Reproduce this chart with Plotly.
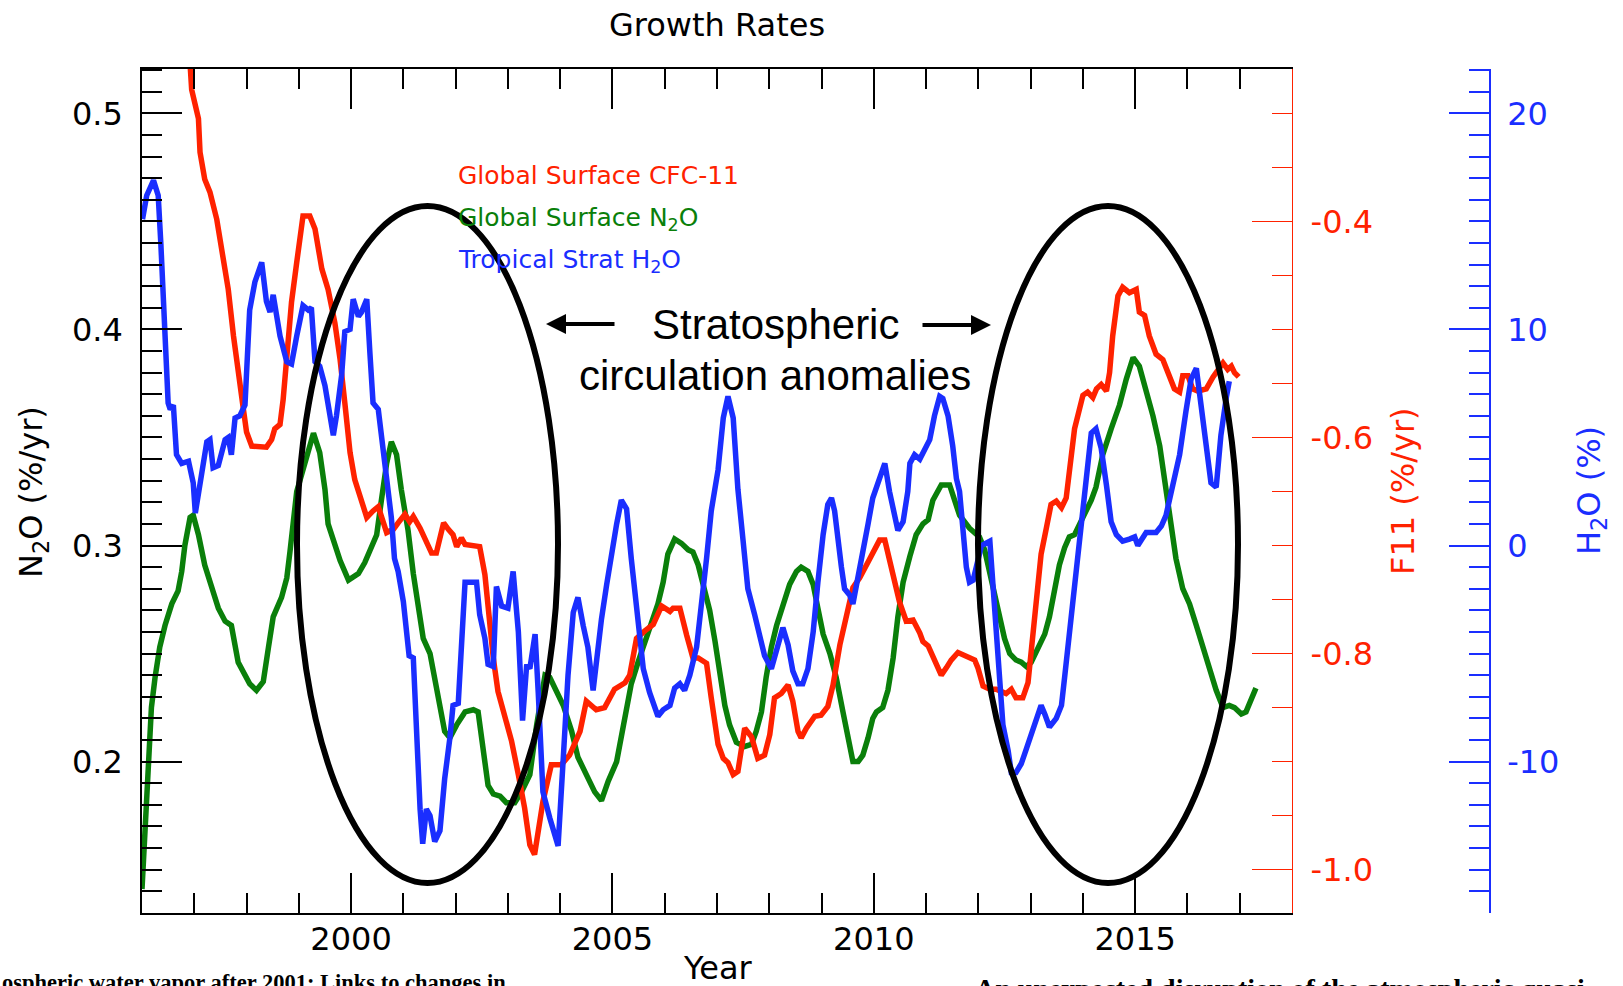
import plotly.graph_objects as go

# ---------------- data ----------------
cfc11_year = [1996.85, 1996.95, 1997.08, 1997.11, 1997.20, 1997.30, 1997.43, 1997.55, 1997.65, 1997.75,
              1997.84, 1997.94, 1998.00, 1998.10, 1998.38, 1998.48, 1998.54, 1998.64, 1998.70, 1998.77,
              1998.86, 1998.96, 1999.08, 1999.21, 1999.31, 1999.44, 1999.56, 1999.69, 1999.79, 1999.88,
              1999.98, 2000.07, 2000.30, 2000.42, 2000.52, 2000.68, 2000.81, 2000.90, 2001.03, 2001.12,
              2001.19, 2001.32, 2001.44, 2001.54, 2001.63, 2001.70, 2001.77, 2001.86, 2001.95, 2002.02,
              2002.11, 2002.18, 2002.46, 2002.56, 2002.65, 2002.72, 2002.81, 2002.94, 2003.07, 2003.20,
              2003.32, 2003.42, 2003.51, 2003.67, 2003.83, 2004.02, 2004.18, 2004.38, 2004.50, 2004.69,
              2004.85, 2005.04, 2005.24, 2005.33, 2005.46, 2005.62, 2005.78, 2005.94, 2006.10, 2006.16,
              2006.29, 2006.42, 2006.54, 2006.64, 2006.80, 2006.89, 2007.02, 2007.12, 2007.21, 2007.31,
              2007.40, 2007.53, 2007.66, 2007.78, 2007.91, 2008.01, 2008.10, 2008.23, 2008.36, 2008.45,
              2008.55, 2008.61, 2008.71, 2008.87, 2008.99, 2009.12, 2009.22, 2009.35, 2009.47, 2009.60,
              2009.73, 2009.86, 2009.98, 2010.11, 2010.21, 2010.30, 2010.40, 2010.49, 2010.62, 2010.75,
              2010.88, 2010.94, 2011.04, 2011.16, 2011.29, 2011.39, 2011.48, 2011.61, 2011.71, 2011.83,
              2011.93, 2011.99, 2012.09, 2012.22, 2012.34, 2012.53, 2012.63, 2012.72, 2012.85, 2012.95,
              2013.01, 2013.08, 2013.14, 2013.20, 2013.30, 2013.39, 2013.49, 2013.59, 2013.68, 2013.84,
              2014.00, 2014.09, 2014.19, 2014.26, 2014.35, 2014.45, 2014.51, 2014.57, 2014.67, 2014.76,
              2014.89, 2015.02, 2015.08, 2015.18, 2015.27, 2015.40, 2015.53, 2015.62, 2015.75, 2015.85,
              2015.91, 2016.01, 2016.10, 2016.20, 2016.36, 2016.49, 2016.68, 2016.77, 2016.84, 2016.90,
              2016.98]
cfc11_rate = [-0.200, -0.278, -0.305, -0.336, -0.361, -0.373, -0.398, -0.432, -0.463, -0.506,
              -0.543, -0.574, -0.595, -0.608, -0.609, -0.602, -0.592, -0.588, -0.565, -0.524,
              -0.475, -0.438, -0.395, -0.395, -0.407, -0.444, -0.463, -0.494, -0.528, -0.568,
              -0.614, -0.639, -0.674, -0.668, -0.664, -0.688, -0.685, -0.679, -0.671, -0.678,
              -0.673, -0.684, -0.696, -0.707, -0.707, -0.695, -0.679, -0.685, -0.690, -0.701,
              -0.693, -0.699, -0.701, -0.727, -0.773, -0.804, -0.835, -0.860, -0.881, -0.912,
              -0.943, -0.977, -0.986, -0.937, -0.903, -0.903, -0.894, -0.872, -0.844, -0.852,
              -0.850, -0.833, -0.827, -0.820, -0.786, -0.779, -0.773, -0.756, -0.761, -0.758,
              -0.758, -0.783, -0.804, -0.804, -0.809, -0.841, -0.884, -0.897, -0.901, -0.912,
              -0.909, -0.869, -0.877, -0.897, -0.894, -0.875, -0.841, -0.837, -0.829, -0.844,
              -0.872, -0.878, -0.869, -0.858, -0.857, -0.849, -0.829, -0.792, -0.764, -0.739,
              -0.730, -0.718, -0.705, -0.695, -0.695, -0.712, -0.733, -0.752, -0.770, -0.769,
              -0.781, -0.789, -0.793, -0.807, -0.820, -0.813, -0.806, -0.799, -0.801, -0.804,
              -0.806, -0.813, -0.830, -0.833, -0.833, -0.837, -0.833, -0.841, -0.841, -0.827,
              -0.798, -0.767, -0.733, -0.708, -0.684, -0.662, -0.659, -0.665, -0.656, -0.592,
              -0.561, -0.558, -0.563, -0.555, -0.551, -0.557, -0.540, -0.506, -0.469, -0.461,
              -0.466, -0.463, -0.484, -0.487, -0.506, -0.523, -0.528, -0.540, -0.555, -0.558,
              -0.543, -0.543, -0.555, -0.557, -0.555, -0.544, -0.531, -0.537, -0.534, -0.540,
              -0.544]

n2o_year = [1996.00, 1996.06, 1996.12, 1996.18, 1996.25, 1996.34, 1996.44, 1996.57, 1996.69, 1996.76,
            1996.82, 1996.92, 1996.98, 1997.08, 1997.20, 1997.33, 1997.46, 1997.59, 1997.71, 1997.84,
            1997.97, 1998.06, 1998.19, 1998.32, 1998.42, 1998.51, 1998.67, 1998.77, 1998.83, 1998.89,
            1998.96, 1999.02, 1999.15, 1999.28, 1999.40, 1999.50, 1999.56, 1999.66, 1999.79, 1999.95,
            2000.14, 2000.26, 2000.39, 2000.49, 2000.58, 2000.68, 2000.77, 2000.87, 2000.96, 2001.09,
            2001.19, 2001.28, 2001.38, 2001.51, 2001.60, 2001.70, 2001.79, 2001.89, 2002.02, 2002.18,
            2002.34, 2002.43, 2002.53, 2002.62, 2002.72, 2002.85, 2002.97, 2003.13, 2003.26, 2003.42,
            2003.55, 2003.71, 2003.80, 2003.93, 2004.06, 2004.22, 2004.34, 2004.50, 2004.66, 2004.79,
            2004.92, 2005.08, 2005.17, 2005.27, 2005.36, 2005.49, 2005.62, 2005.75, 2005.87, 2005.97,
            2006.06, 2006.19, 2006.32, 2006.45, 2006.54, 2006.64, 2006.73, 2006.86, 2006.96, 2007.05,
            2007.15, 2007.24, 2007.37, 2007.53, 2007.66, 2007.75, 2007.85, 2007.94, 2008.04, 2008.14,
            2008.26, 2008.39, 2008.52, 2008.61, 2008.74, 2008.84, 2008.93, 2009.03, 2009.16, 2009.28,
            2009.41, 2009.51, 2009.60, 2009.70, 2009.79, 2009.89, 2009.98, 2010.05, 2010.17, 2010.27,
            2010.37, 2010.46, 2010.56, 2010.69, 2010.81, 2010.94, 2011.04, 2011.13, 2011.23, 2011.29,
            2011.45, 2011.55, 2011.64, 2011.83, 2012.02, 2012.12, 2012.21, 2012.31, 2012.41, 2012.50,
            2012.60, 2012.72, 2012.82, 2012.92, 2013.01, 2013.14, 2013.27, 2013.36, 2013.46, 2013.55,
            2013.65, 2013.74, 2013.84, 2013.94, 2014.03, 2014.16, 2014.25, 2014.38, 2014.54, 2014.70,
            2014.83, 2014.96, 2015.08, 2015.21, 2015.34, 2015.47, 2015.59, 2015.69, 2015.78, 2015.91,
            2016.04, 2016.17, 2016.29, 2016.42, 2016.55, 2016.68, 2016.80, 2016.90, 2017.03, 2017.12,
            2017.22, 2017.31]
n2o_rate = [0.141, 0.171, 0.202, 0.225, 0.239, 0.253, 0.263, 0.273, 0.279, 0.288,
            0.300, 0.313, 0.314, 0.305, 0.291, 0.280, 0.271, 0.265, 0.263, 0.246,
            0.240, 0.236, 0.233, 0.237, 0.253, 0.267, 0.276, 0.285, 0.297, 0.311,
            0.325, 0.330, 0.342, 0.352, 0.343, 0.326, 0.310, 0.302, 0.293, 0.284,
            0.287, 0.292, 0.299, 0.305, 0.321, 0.338, 0.348, 0.342, 0.326, 0.307,
            0.287, 0.271, 0.257, 0.250, 0.239, 0.225, 0.214, 0.211, 0.217, 0.223,
            0.224, 0.223, 0.205, 0.189, 0.185, 0.184, 0.181, 0.181, 0.186, 0.194,
            0.217, 0.240, 0.239, 0.233, 0.226, 0.214, 0.202, 0.194, 0.186, 0.182,
            0.191, 0.200, 0.211, 0.225, 0.236, 0.246, 0.255, 0.263, 0.273, 0.283,
            0.296, 0.303, 0.301, 0.298, 0.297, 0.291, 0.282, 0.270, 0.256, 0.240,
            0.226, 0.217, 0.209, 0.207, 0.208, 0.214, 0.223, 0.239, 0.253, 0.263,
            0.273, 0.282, 0.288, 0.290, 0.288, 0.282, 0.271, 0.259, 0.250, 0.239,
            0.223, 0.209, 0.200, 0.200, 0.203, 0.211, 0.220, 0.223, 0.225, 0.233,
            0.248, 0.267, 0.283, 0.295, 0.305, 0.310, 0.312, 0.321, 0.326, 0.328,
            0.328, 0.320, 0.314, 0.308, 0.304, 0.298, 0.288, 0.279, 0.267, 0.257,
            0.250, 0.247, 0.246, 0.244, 0.246, 0.253, 0.259, 0.267, 0.279, 0.291,
            0.299, 0.304, 0.305, 0.310, 0.314, 0.321, 0.327, 0.342, 0.354, 0.365,
            0.377, 0.387, 0.383, 0.372, 0.360, 0.346, 0.327, 0.310, 0.294, 0.280,
            0.273, 0.263, 0.253, 0.243, 0.233, 0.225, 0.226, 0.225, 0.222, 0.223,
            0.229, 0.234]

h2o_year = [1996.01, 1996.09, 1996.22, 1996.31, 1996.36, 1996.41, 1996.44, 1996.50, 1996.54, 1996.60,
            1996.66, 1996.76, 1996.89, 1996.98, 1997.02, 1997.14, 1997.24, 1997.30, 1997.36, 1997.46,
            1997.59, 1997.65, 1997.71, 1997.78, 1997.87, 1997.97, 1998.06, 1998.16, 1998.29, 1998.38,
            1998.45, 1998.51, 1998.57, 1998.64, 1998.77, 1998.86, 1998.96, 1999.08, 1999.18, 1999.24,
            1999.31, 1999.40, 1999.50, 1999.59, 1999.66, 1999.72, 1999.82, 1999.88, 1999.98, 2000.04,
            2000.14, 2000.20, 2000.30, 2000.36, 2000.42, 2000.52, 2000.58, 2000.65, 2000.71, 2000.77,
            2000.83, 2000.90, 2001.00, 2001.06, 2001.11, 2001.19, 2001.25, 2001.32, 2001.37, 2001.44,
            2001.51, 2001.60, 2001.70, 2001.79, 2001.89, 2001.95, 2002.05, 2002.11, 2002.18, 2002.40,
            2002.46, 2002.56, 2002.62, 2002.72, 2002.78, 2002.88, 2003.00, 2003.10, 2003.20, 2003.28,
            2003.36, 2003.42, 2003.52, 2003.58, 2003.67, 2003.80, 2003.96, 2004.06, 2004.15, 2004.25,
            2004.34, 2004.44, 2004.53, 2004.63, 2004.73, 2004.79, 2004.89, 2004.98, 2005.08, 2005.17,
            2005.27, 2005.36, 2005.46, 2005.59, 2005.71, 2005.87, 2005.97, 2006.10, 2006.19, 2006.29,
            2006.38, 2006.48, 2006.61, 2006.70, 2006.80, 2006.89, 2006.96, 2007.02, 2007.12, 2007.21,
            2007.31, 2007.40, 2007.50, 2007.59, 2007.72, 2007.82, 2007.91, 2008.04, 2008.17, 2008.26,
            2008.36, 2008.45, 2008.55, 2008.64, 2008.74, 2008.84, 2008.93, 2009.03, 2009.12, 2009.19,
            2009.25, 2009.31, 2009.38, 2009.44, 2009.54, 2009.60, 2009.70, 2009.79, 2009.89, 2009.98,
            2010.11, 2010.21, 2010.30, 2010.40, 2010.46, 2010.56, 2010.65, 2010.69, 2010.78, 2010.88,
            2010.97, 2011.07, 2011.16, 2011.26, 2011.32, 2011.42, 2011.51, 2011.58, 2011.64, 2011.70,
            2011.77, 2011.83, 2011.90, 2011.96, 2012.06, 2012.22, 2012.28, 2012.34, 2012.41, 2012.47,
            2012.57, 2012.63, 2012.72, 2012.82, 2012.92, 2013.04, 2013.14, 2013.20, 2013.27, 2013.36,
            2013.49, 2013.59, 2013.65, 2013.71, 2013.78, 2013.84, 2013.90, 2013.97, 2014.03, 2014.16,
            2014.25, 2014.35, 2014.45, 2014.54, 2014.64, 2014.76, 2014.89, 2014.99, 2015.05, 2015.15,
            2015.21, 2015.40, 2015.50, 2015.59, 2015.69, 2015.85, 2015.97, 2016.07, 2016.17, 2016.26,
            2016.36, 2016.45, 2016.55, 2016.64, 2016.74, 2016.80]
h2o_anom = [15.1, 16.2, 16.9, 16.2, 14.0, 11.3, 9.7, 6.6, 6.3, 6.5,
            4.2, 3.8, 3.9, 2.9, 1.5, 3.5, 4.8, 4.9, 3.6, 3.7,
            4.9, 5.0, 4.2, 5.9, 6.0, 6.5, 10.9, 12.2, 13.1, 11.3,
            10.8, 11.6, 10.6, 9.7, 8.5, 8.4, 9.7, 11.1, 10.9, 11.0,
            8.5, 8.3, 7.4, 5.9, 5.1, 6.0, 7.9, 9.9, 10.0, 11.4,
            10.6, 10.8, 11.4, 8.9, 6.6, 6.3, 5.1, 3.5, 2.5, 1.3,
            -0.6, -1.2, -2.6, -4.0, -5.1, -5.2, -9.1, -12.2, -13.8, -12.2,
            -12.5, -13.7, -13.2, -10.8, -8.9, -7.4, -7.3, -4.4, -1.7, -1.7,
            -3.2, -4.3, -5.5, -5.6, -1.9, -2.8, -2.9, -1.2, -4.0, -8.1,
            -5.5, -5.7, -4.1, -6.8, -11.4, -12.6, -13.9, -9.8, -6.0, -3.1,
            -2.4, -3.7, -4.7, -6.7, -4.4, -3.4, -1.8, -0.3, 1.0, 2.1,
            1.7, -0.6, -2.9, -5.7, -6.8, -7.9, -7.6, -7.4, -6.6, -6.4,
            -6.7, -6.0, -4.7, -2.9, -0.6, 1.6, 2.5, 3.5, 5.9, 6.9,
            5.9, 2.6, 0.2, -2.0, -3.2, -4.1, -5.1, -5.7, -4.7, -3.8,
            -4.6, -5.8, -6.4, -6.4, -5.7, -4.0, -1.7, 0.5, 1.9, 2.2,
            1.6, 0.2, -1.0, -2.0, -2.3, -2.7, -1.5, -0.4, 1.0, 2.2,
            3.2, 3.8, 2.5, 1.3, 0.7, 1.1, 2.5, 3.8, 4.2, 4.0,
            4.5, 4.9, 6.0, 6.9, 6.8, 6.0, 4.6, 3.1, 2.5, 1.0,
            -1.0, -1.7, -1.6, -1.0, 0.0, 0.2, -1.8, -4.0, -6.0, -8.3,
            -9.5, -10.5, -10.5, -10.1, -9.4, -8.5, -7.8, -7.4, -7.8, -8.4,
            -8.0, -7.4, -6.1, -4.7, -3.4, -2.0, -0.6, 1.0, 2.5, 5.2,
            5.4, 4.5, 2.8, 1.1, 0.5, 0.2, 0.3, 0.4, 0.0, 0.4,
            0.6, 0.6, 0.9, 1.4, 2.5, 4.2, 6.2, 7.7, 8.2, 6.6,
            4.6, 2.9, 2.7, 5.1, 6.8, 7.6]

# tick labels
x_tickvals = [2000, 2005, 2010, 2015]
n2o_tickvals = [0.2, 0.3, 0.4, 0.5]
n2o_ticktext = ["0.2", "0.3", "0.4", "0.5"]
f11_tickvals = [-1.0, -0.8, -0.6, -0.4]
f11_ticktext = ["-1.0", "-0.8", "-0.6", "-0.4"]
h2o_tickvals = [-10, 0, 10, 20]
h2o_ticktext = ["-10", "0", "10", "20"]

# ---------------- styling / layout ----------------
RED = "#ff2200"
GREEN = "#0a7f0a"
BLUE = "#1a2eff"
FONT = "DejaVu Sans"

W, H = 1623, 986
PL, PR, PT, PB = 142, 1500, 69, 913   # paper area in pixels


def fx(p):
    return (p - PL) / (PR - PL)


def fy(p):
    return (PB - p) / (PB - PT)


fig = go.Figure()
fig.add_trace(go.Scatter(x=n2o_year, y=n2o_rate, mode="lines", line=dict(color=GREEN, width=5.5),
                         yaxis="y", showlegend=False))
fig.add_trace(go.Scatter(x=cfc11_year, y=cfc11_rate, mode="lines", line=dict(color=RED, width=5.5),
                         yaxis="y2", showlegend=False))
fig.add_trace(go.Scatter(x=h2o_year, y=h2o_anom, mode="lines", line=dict(color=BLUE, width=5.5),
                         yaxis="y3", showlegend=False))

tickfont = dict(family=FONT, size=32)

fig.update_layout(
    width=W, height=H,
    margin=dict(l=PL, r=W - PR, t=PT, b=H - PB, autoexpand=False),
    paper_bgcolor="white", plot_bgcolor="white",
    font=dict(family=FONT, color="black"),
    showlegend=False,
    xaxis=dict(domain=[0, fx(1292)], range=[1996, 2018], tickmode="array", tickvals=x_tickvals,
               ticks="inside", ticklen=40, tickwidth=1.6, tickcolor="black",
               showline=True, linecolor="black", linewidth=1.6, mirror="ticks",
               minor=dict(tickmode="linear", tick0=1996, dtick=1, ticks="inside", ticklen=20,
                          tickwidth=1.6, tickcolor="black"),
               showgrid=False, zeroline=False, tickfont=tickfont, ticklabelstandoff=-3),
    yaxis=dict(range=[0.12995, 0.52051], tickmode="array", tickvals=n2o_tickvals, ticktext=n2o_ticktext,
               ticks="inside", ticklen=40, tickwidth=1.6, tickcolor="black",
               showline=True, linecolor="black", linewidth=1.6, mirror=False,
               minor=dict(tickmode="linear", tick0=0, dtick=0.01, ticks="inside", ticklen=20,
                          tickwidth=1.6, tickcolor="black"),
               showgrid=False, zeroline=False, tickfont=tickfont, ticklabelstandoff=11),
    yaxis2=dict(overlaying="y", side="right", anchor="x", range=[-1.0401, -0.2590],
                tickmode="array", tickvals=f11_tickvals, ticktext=f11_ticktext,
                ticks="inside", ticklen=40, tickwidth=1.4, tickcolor=RED,
                showline=True, linecolor=RED, linewidth=1.4,
                minor=dict(tickmode="linear", tick0=0, dtick=0.05, ticks="inside", ticklen=20,
                           tickwidth=1.4, tickcolor=RED),
                showgrid=False, zeroline=False, tickfont=dict(family=FONT, size=32, color=RED),
                ticklabelstandoff=11),
    yaxis3=dict(overlaying="y", side="right", anchor="free", position=fx(1490), range=[-17.005, 22.051],
                tickmode="array", tickvals=h2o_tickvals, ticktext=h2o_ticktext,
                ticks="inside", ticklen=40, tickwidth=1.6, tickcolor=BLUE,
                showline=True, linecolor=BLUE, linewidth=1.6,
                minor=dict(tickmode="linear", tick0=0, dtick=1, ticks="inside", ticklen=20,
                           tickwidth=1.6, tickcolor=BLUE),
                showgrid=False, zeroline=False, tickfont=dict(family=FONT, size=32, color=BLUE),
                ticklabelstandoff=10),
)

ann = []


def text(t, x, y, size, color="black", family=FONT, xanchor="center", yanchor="middle", angle=0):
    ann.append(dict(text=t, x=fx(x), y=fy(y), xref="paper", yref="paper", showarrow=False,
                    xanchor=xanchor, yanchor=yanchor, textangle=angle,
                    font=dict(family=family, size=size, color=color)))


text("Growth Rates", 717, 25, 32)
text("Year", 718, 968, 32)
text("N<sub>2</sub>O (%/yr)", 33, 492, 32, angle=-90)
text("F11 (%/yr)", 1403, 491, 32, color=RED, angle=-90)
text("H<sub>2</sub>O (%)", 1591, 491, 32, color=BLUE, angle=-90)

text("Global Surface CFC-11", 456, 176, 25, color=RED, xanchor="left")
text("Global Surface N<sub>2</sub>O", 456, 219, 25, color=GREEN, xanchor="left")
text("Tropical Strat H<sub>2</sub>O", 456, 261, 25, color=BLUE, xanchor="left")

text("Stratospheric", 775, 324, 42, family="Liberation Sans")
text("circulation anomalies", 775, 376, 42, family="Liberation Sans")

text("<b>ospheric water vapor after 2001: Links to changes in</b>", 0, 968, 22.5,
     family="Liberation Serif", xanchor="left", yanchor="top")
text("<b>An unexpected disruption of the atmospheric quasi-</b>", 973, 971, 28,
     family="Liberation Serif", xanchor="left", yanchor="top")

# arrows
ann.append(dict(x=fx(546), y=fy(324), xref="paper", yref="paper", ax=70, ay=0, axref="pixel", ayref="pixel",
                text="", showarrow=True, arrowhead=2, arrowsize=1.0, arrowwidth=4, arrowcolor="black"))
ann.append(dict(x=fx(991), y=fy(325), xref="paper", yref="paper", ax=-70, ay=0, axref="pixel", ayref="pixel",
                text="", showarrow=True, arrowhead=2, arrowsize=1.0, arrowwidth=4, arrowcolor="black"))

fig.update_layout(annotations=ann)

# ellipses
for x0, x1 in [(297, 558), (978, 1238)]:
    fig.add_shape(type="circle", xref="paper", yref="paper",
                  x0=fx(x0), x1=fx(x1), y0=fy(883), y1=fy(206),
                  line=dict(color="black", width=6), layer="above")

fig.write_html("out.html")
